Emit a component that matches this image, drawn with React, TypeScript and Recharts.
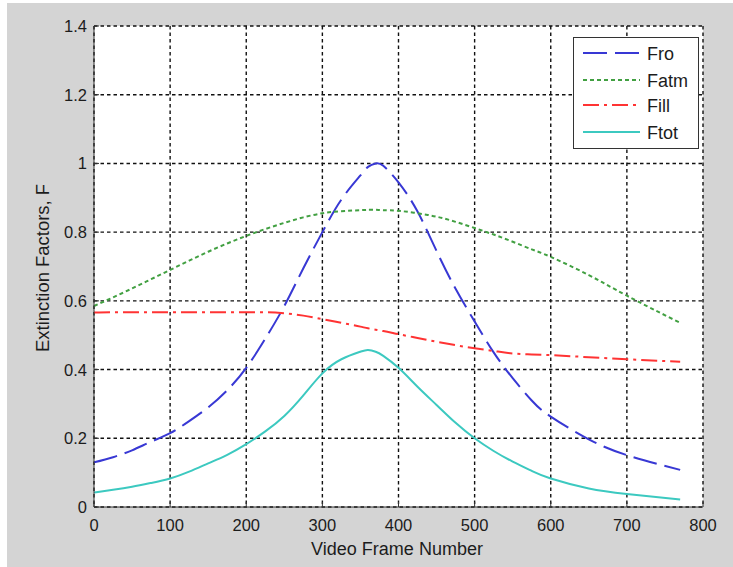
import { CartesianGrid, Line, LineChart, XAxis, YAxis } from 'recharts';

// Extinction factors vs video frame, MATLAB-style figure (grey panel, dotted grid).

const frames = [
  0, 25, 50, 75, 100, 125, 150, 175, 200, 225, 250, 275, 300, 325, 350, 360, 370, 380, 400, 425,
  450, 475, 500, 525, 550, 575, 600, 650, 700, 770,
];
const fro = [
  0.13, 0.145, 0.165, 0.19, 0.215, 0.25, 0.29, 0.34, 0.405, 0.49, 0.585, 0.695, 0.8, 0.895, 0.965,
  0.99, 1.0, 0.993, 0.945, 0.86, 0.745, 0.635, 0.54, 0.45, 0.375, 0.31, 0.263, 0.197, 0.151, 0.108,
];
const fatm = [
  0.585, 0.61, 0.636, 0.663, 0.69, 0.717, 0.743, 0.767, 0.789, 0.809, 0.827, 0.843, 0.855, 0.861,
  0.864, 0.865, 0.865, 0.864, 0.862, 0.855, 0.845, 0.83, 0.812, 0.793, 0.772, 0.75, 0.728, 0.675,
  0.615, 0.536,
];
const fill = [
  0.566, 0.567, 0.567, 0.567, 0.567, 0.567, 0.567, 0.567, 0.567, 0.567, 0.564, 0.557, 0.547, 0.536,
  0.525, 0.52, 0.516, 0.512, 0.503, 0.492, 0.481, 0.471, 0.462, 0.454, 0.447, 0.444, 0.442, 0.436,
  0.43, 0.423,
];
const ftot = [
  0.042, 0.05, 0.059, 0.07, 0.083, 0.103, 0.127, 0.152, 0.183, 0.22, 0.265, 0.325, 0.389, 0.43,
  0.452, 0.457, 0.452, 0.44, 0.405, 0.35, 0.297, 0.245, 0.2, 0.163, 0.132, 0.105, 0.083, 0.054,
  0.038, 0.022,
];

const xTicks = [0, 100, 200, 300, 400, 500, 600, 700, 800];
const yTicks = [0, 0.2, 0.4, 0.6, 0.8, 1, 1.2, 1.4];

type Curve = 'natural' | 'monotone';

const SERIES: { key: string; color: string; dash?: string; curve: Curve }[] = [
  { key: 'Fro', color: '#3838d4', dash: '24 8', curve: 'natural' },
  { key: 'Fatm', color: '#42a042', dash: '4 3', curve: 'natural' },
  { key: 'Fill', color: '#ff3333', dash: '16 5 3 5', curve: 'monotone' },
  { key: 'Ftot', color: '#3cc9c0', curve: 'natural' },
];

const data = frames.map((f, i) => ({
  frame: f,
  Fro: fro[i],
  Fatm: fatm[i],
  Fill: fill[i],
  Ftot: ftot[i],
}));

const FONT = '"Liberation Sans", Arial, sans-serif';
const INK = '#1c1c1c';
const PANEL_W = 726;
const PANEL_H = 564;

function fmtY(v: number): string {
  return String(Number(v.toFixed(1)));
}

function XTick({ x, y, payload }: any) {
  return (
    <text x={x} y={y + 23.5} textAnchor="middle" fontSize={16.5} fontFamily={FONT} fill={INK}>
      {payload.value}
    </text>
  );
}

function YTick({ x, y, payload }: any) {
  return (
    <text x={x - 7} y={y + 6} textAnchor="end" fontSize={16.5} fontFamily={FONT} fill={INK}>
      {fmtY(payload.value)}
    </text>
  );
}

const noTick = () => <g />;

function Overlay() {
  const lx = 566;
  const ly = 34;
  const rows = [16, 43, 68, 95];
  return (
    <svg
      width={PANEL_W}
      height={PANEL_H}
      style={{ position: 'absolute', left: 0, top: 0, pointerEvents: 'none' }}
    >
      <text
        x={390}
        y={552}
        textAnchor="middle"
        fontSize={18}
        fontFamily={FONT}
        fill={INK}
        textLength={172}
        lengthAdjust="spacingAndGlyphs"
      >
        Video Frame Number
      </text>
      <text
        transform="translate(42,265) rotate(-90)"
        textAnchor="middle"
        fontSize={18}
        fontFamily={FONT}
        fill={INK}
        textLength={168}
        lengthAdjust="spacingAndGlyphs"
      >
        Extinction Factors, F
      </text>
      <g transform={`translate(${lx},${ly})`}>
        <rect x={0.5} y={0.5} width={125} height={111} fill="#fff" stroke="#333" strokeWidth={1} />
        {SERIES.map((s, i) => (
          <g key={s.key}>
            <line
              x1={10}
              x2={67}
              y1={rows[i]}
              y2={rows[i]}
              stroke={s.color}
              strokeWidth={2}
              strokeDasharray={s.dash}
            />
            <text x={74} y={rows[i] + 6.5} fontSize={18} fontFamily={FONT} fill={INK}>
              {s.key}
            </text>
          </g>
        ))}
      </g>
    </svg>
  );
}

export default function App() {
  return (
    <div style={{ position: 'absolute', left: 0, top: 0, width: 733, height: 567, background: '#fff' }}>
      <div
        style={{
          position: 'absolute',
          left: 7,
          top: 3,
          width: PANEL_W,
          height: PANEL_H,
          background: '#d4d4d4',
        }}
      >
        <LineChart
          width={PANEL_W}
          height={PANEL_H}
          data={data}
          margin={{ top: 23, right: 30, bottom: 0, left: 0 }}
        >
          <CartesianGrid
            fill="#fff"
            fillOpacity={1}
            stroke="#111"
            strokeWidth={1.4}
            strokeDasharray="3.5 3"
          />
          <XAxis
            dataKey="frame"
            type="number"
            domain={[0, 800]}
            ticks={xTicks}
            allowDataOverflow
            height={60}
            axisLine={{ stroke: '#333' }}
            tickLine={{ stroke: '#333' }}
            tickSize={-5}
            tickMargin={5}
            tick={XTick}
          />
          <XAxis
            xAxisId="top"
            orientation="top"
            type="number"
            domain={[0, 800]}
            ticks={xTicks}
            allowDataOverflow
            height={0}
            axisLine={{ stroke: '#333' }}
            tickLine={{ stroke: '#333' }}
            tickSize={-5}
            tick={noTick}
          />
          <YAxis
            type="number"
            domain={[0, 1.4]}
            ticks={yTicks}
            allowDataOverflow
            width={87}
            axisLine={{ stroke: '#333' }}
            tickLine={{ stroke: '#333' }}
            tickSize={-5}
            tickMargin={5}
            tick={YTick}
          />
          <YAxis
            yAxisId="right"
            orientation="right"
            type="number"
            domain={[0, 1.4]}
            ticks={yTicks}
            allowDataOverflow
            width={0}
            axisLine={{ stroke: '#333' }}
            tickLine={{ stroke: '#333' }}
            tickSize={-5}
            tick={noTick}
          />
          {SERIES.map((s) => (
            <Line
              key={s.key}
              type={s.curve}
              dataKey={s.key}
              stroke={s.color}
              strokeWidth={2}
              strokeDasharray={s.dash}
              dot={false}
              activeDot={false}
              isAnimationActive={false}
            />
          ))}
        </LineChart>
        <Overlay />
      </div>
    </div>
  );
}
